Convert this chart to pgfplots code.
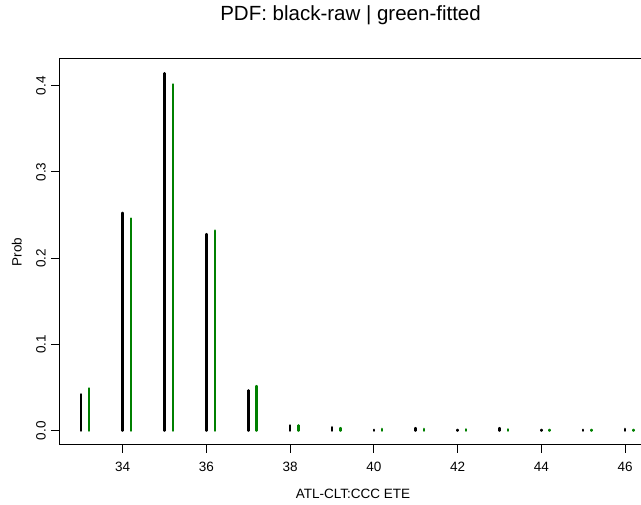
\documentclass[border=0pt]{standalone}
\usepackage{pgfplots}
\pgfplotsset{compat=1.18}
\usepackage{fontspec}
\setmainfont{Liberation Sans}
\definecolor{rgreen}{RGB}{0,128,0}
\begin{document}
\begin{tikzpicture}
\begin{axis}[
  width=587.8bp, height=386bp, scale only axis,
  xmin=32.478, xmax=46.52,
  ymin=-0.01658, ymax=0.43096,
  axis line style={line width=1bp, black},
  xtick={34,36,38,40,42,44,46},
  ytick={0,0.1,0.2,0.3,0.4},
  xtick pos=left, ytick pos=left,
  tick align=outside,
  major tick length=8bp,
  every tick/.style={black, line width=1bp},
  /pgf/number format/assume math mode=true,
  yticklabel style={/pgf/number format/fixed, /pgf/number format/fixed zerofill, /pgf/number format/precision=1},
  ticklabel style={font=\fontsize{13.5bp}{16bp}\selectfont},
  xticklabel style={anchor=base, inner sep=0pt, yshift=-19bp},
  yticklabel style={xshift=-5bp, rotate=90, anchor=south, inner sep=0pt},
  xlabel={ATL-CLT:CCC ETE},
  ylabel={Prob},
  label style={font=\fontsize{13.5bp}{16bp}\selectfont},
  xlabel style={at={(rel axis cs:0.5,-0.1399)}, anchor=base, inner sep=0pt},
  ylabel style={at={(rel axis cs:-0.0629,0.5)}, rotate=0, anchor=south, inner sep=0pt},
  title={PDF: black-raw | green-fitted},
  title style={at={(rel axis cs:0.496,1.0855)}, anchor=base, inner sep=0pt, font=\fontsize{20.5bp}{24bp}\selectfont},
  clip=false,
]
\addplot[ycomb, black, line width=2.5bp, line cap=round, mark=none] coordinates {
 (33,0.0421) (34,0.2526) (35,0.4144) (36,0.2279) (37,0.0467) (38,0.0061)
 (39,0.004) (40,0.001) (41,0.003) (42,0.001) (43,0.003) (44,0.001) (45,0.001) (46,0.002)
};
\addplot[ycomb, rgreen, line width=2.5bp, line cap=round, mark=none] coordinates {
 (33.2,0.049) (34.2,0.246) (35.2,0.4015) (36.2,0.232) (37.2,0.0517) (38.2,0.0061)
 (39.2,0.003) (40.2,0.002) (41.2,0.002) (42.2,0.0015) (43.2,0.0015) (44.2,0.001) (45.2,0.001) (46.2,0.001)
};
\coordinate (BL) at (axis cs:31.068,-0.08615);
\coordinate (TR) at (axis cs:46.382,0.49937);
\end{axis}
\pgfresetboundingbox
\useasboundingbox (BL) rectangle (TR);
\end{tikzpicture}
\end{document}
